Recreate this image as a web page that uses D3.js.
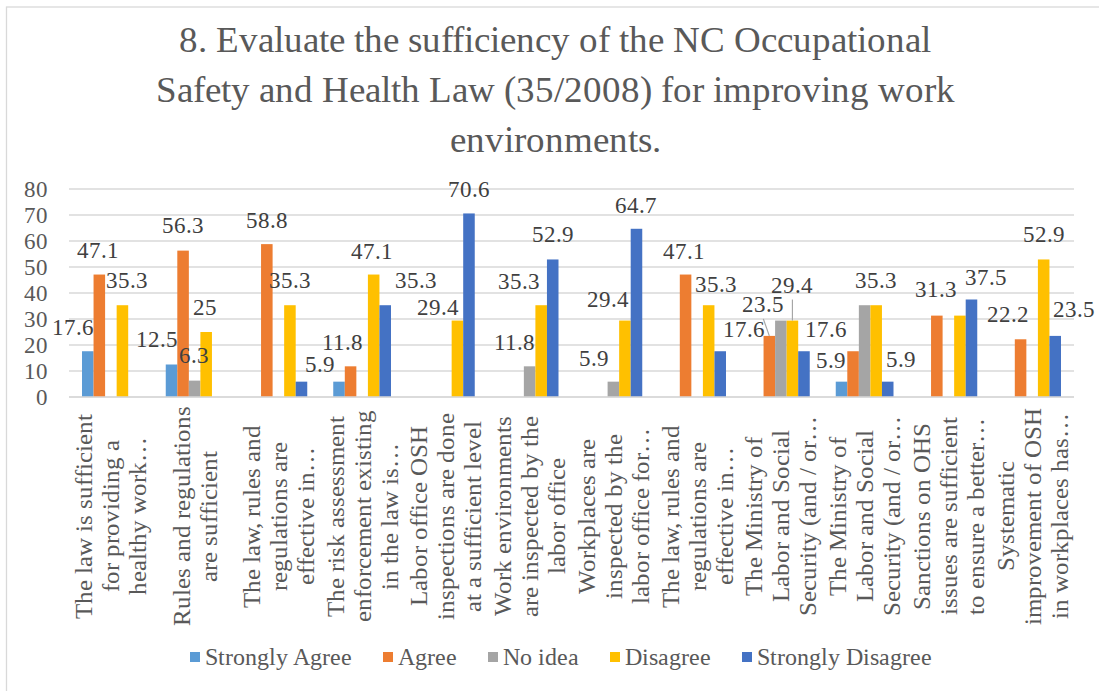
<!DOCTYPE html>
<html>
<head>
<meta charset="utf-8">
<script src="https://cdn.jsdelivr.net/npm/d3@7"></script>
<style>
  @font-face {
    font-family: "ChartSerif";
    src: local("Liberation Serif"), local("LiberationSerif"), local("LiberationSerif-Regular"),
         local("Liberation Serif Regular"), local("Times New Roman"), local("TimesNewRomanPSMT"),
         local("Tinos"), local("Tinos-Regular"), local("DejaVu Serif"), local("DejaVuSerif"),
         local("Noto Serif"), local("NotoSerif-Regular");
  }
  html, body { margin: 0; padding: 0; background: #ffffff; }
  svg { display: block; }
  svg text { font-family: "ChartSerif", "Liberation Serif", "Tinos", "Times New Roman", "Times", "DejaVu Serif", "Noto Serif", serif; }
</style>
</head>
<body>
<svg id="chart" width="1099" height="691"></svg>
<script>
// ---- data ---------------------------------------------------------------
const titleLines = [
  "8. Evaluate the sufficiency of the NC Occupational",
  "Safety and Health Law (35/2008) for improving work",
  "environments."
];

// category labels, already wrapped into lines as they appear under the axis
const categories = [
  ["The law is sufficient", "for providing a", "healthy work\u2026"],
  ["Rules and regulations", "are sufficient"],
  ["The law, rules and", "regulations are", "effective in\u2026"],
  ["The risk assessment", "enforcement existing", "in the law is\u2026"],
  ["Labor office OSH", "inspections are done", "at a sufficient level"],
  ["Work environments", "are inspected by the", "labor office"],
  ["Workplaces are", "inspected by the", "labor office for\u2026"],
  ["The law, rules and", "regulations are", "effective in\u2026"],
  ["The Ministry of", "Labor and Social", "Security (and / or\u2026"],
  ["The Ministry of", "Labor and Social", "Security (and / or\u2026"],
  ["Sanctions on OHS", "issues are sufficient", "to ensure a better\u2026"],
  ["Systematic", "improvement of OSH", "in workplaces has\u2026"]
];

const seriesNames = ["Strongly Agree", "Agree", "No idea", "Disagree", "Strongly Disagree"];

const stronglyAgree    = [17.6, 12.5, null, 5.9, null, null, null, null, null, 5.9, null, null];
const agree            = [47.1, 56.3, 58.8, 11.8, null, null, null, 47.1, 23.5, 17.6, 31.3, 22.2];
const noIdea           = [null, 6.3, null, null, null, 11.8, 5.9, null, 29.4, 35.3, null, null];
const disagree         = [35.3, 25, 35.3, 47.1, 29.4, 35.3, 29.4, 35.3, 29.4, 35.3, 31.3, 52.9];
const stronglyDisagree = [null, null, 5.9, 35.3, 70.6, 52.9, 64.7, 17.6, 17.6, 5.9, 37.5, 23.5];

const yTicks = [0, 10, 20, 30, 40, 50, 60, 70, 80];

// ---- styling --------------------------------------------------------------
const colors = ["#5B9BD5", "#ED7D31", "#A5A5A5", "#FFC000", "#4472C4"];
const seriesValues = [stronglyAgree, agree, noIdea, disagree, stronglyDisagree];

// hand-placed data labels: "category:series" -> [dx, dy] from the default spot,
// "hide" for labels that sit under another label with the same text
const labelNudge = {
  "0:0": [-15, 0], "0:1": [-1, -1], "0:3": [5, -1],
  "1:0": [-14.5, -1.5], "1:1": [0, -2], "1:2": [-1, -1.5], "1:3": [-1, -1],
  "2:1": [0, 0], "2:3": [0, -1], "2:4": [18.5, 6],
  "3:0": "hide", "3:1": [-8, 0], "3:3": [-1.5, 0], "3:4": [31, -1],
  "4:3": [-19.5, 10], "4:4": [0, 0],
  "5:2": [-15.5, 0], "5:3": [-22, 0], "5:4": [0, -1.5],
  "6:2": [-19, 0], "6:3": [-16.5, 2], "6:4": [0, 0],
  "7:1": [-1.5, 0], "7:3": [7, 2.5], "7:4": [24, 1.5],
  "8:1": [-6, -8], "8:2": "hide", "8:3": [0, -12], "8:4": [22, 1.5],
  "9:0": [-11, 2], "9:1": "hide", "9:2": "hide", "9:3": [0, -1], "9:4": [13, 1],
  "10:1": [-1, -2.5], "10:3": "hide", "10:4": [15, 1],
  "11:1": [-13, -1], "11:3": [0, -1.5], "11:4": [18.5, -3]
};
// labels joined to their bar by a short leader line
const leaderLabels = ["8:1", "8:3"];

// ---- layout -------------------------------------------------------------
const W = 1099, H = 691;
const plot = { left: 69, right: 1074, top: 189, bottom: 397 };

const svg = d3.select("#chart");

// pick a font size so that a sample string spans the wanted width
function fitSize(sample, base, target) {
  const t = svg.append("text").style("font-size", base + "px").text(sample);
  const w = t.node().getComputedTextLength();
  t.remove();
  return w > 0 ? base * target / w : base;
}

function draw() {
  svg.selectAll("*").remove();

  const titleSize  = fitSize(titleLines[1], 36, 803);
  const valueSize  = fitSize("56.3", 23.5, 41);
  const catSize    = fitSize("Rules and regulations", 25, 216);
  const legendSize = fitSize("Strongly Agree", 24, 147);

  // chart area frame (extends past the right/bottom edges of the page)
  svg.append("rect")
    .attr("x", 6.5).attr("y", 7)
    .attr("width", W + 40).attr("height", H + 40)
    .attr("fill", "#ffffff")
    .attr("stroke", "#d9d9d9").attr("stroke-width", 1.3);

  // title
  svg.append("text")
    .attr("text-anchor", "middle")
    .attr("fill", "#595959")
    .style("font-size", titleSize + "px")
    .selectAll("tspan")
    .data(titleLines)
    .join("tspan")
    .attr("x", 555)
    .attr("y", (d, i) => 52 + i * 50)
    .text(d => d);

  const idx = d3.range(categories.length);
  const x0 = d3.scaleBand().domain(idx).range([plot.left, plot.right]).padding(0);
  const groupPad = 13;
  const x1 = d3.scaleBand().domain(d3.range(seriesNames.length))
    .range([groupPad, x0.bandwidth() - groupPad]).padding(0);
  const y = d3.scaleLinear().domain([0, 80]).range([plot.bottom, plot.top]);

  // gridlines
  svg.append("g")
    .selectAll("line")
    .data(yTicks)
    .join("line")
    .attr("x1", plot.left).attr("x2", plot.right)
    .attr("y1", d => y(d)).attr("y2", d => y(d))
    .attr("stroke", "#d9d9d9").attr("stroke-width", 1.3);

  // y axis labels
  const yAxis = d3.axisLeft(y).tickValues(yTicks).tickSize(0).tickPadding(0);
  const gy = svg.append("g")
    .attr("transform", `translate(48,0)`)
    .call(yAxis)
    .attr("font-family", null)
    .attr("font-size", null);
  gy.select(".domain").remove();
  gy.selectAll("text")
    .attr("fill", "#595959")
    .attr("dy", "0.32em")
    .style("font-size", valueSize + "px");

  // bars
  const bars = [];
  seriesValues.forEach((vals, si) => {
    vals.forEach((v, ci) => {
      if (v !== null) bars.push({ ci, si, v });
    });
  });

  svg.append("g")
    .selectAll("rect")
    .data(bars)
    .join("rect")
    .attr("x", d => x0(d.ci) + x1(d.si))
    .attr("y", d => y(d.v))
    .attr("width", x1.bandwidth())
    .attr("height", d => y(0) - y(d.v))
    .attr("fill", d => colors[d.si]);

  // category axis line
  svg.append("line")
    .attr("x1", plot.left).attr("x2", plot.right)
    .attr("y1", y(0)).attr("y2", y(0))
    .attr("stroke", "#d9d9d9").attr("stroke-width", 1.3);

  // data labels
  const labelled = bars.filter(d => labelNudge[`${d.ci}:${d.si}`] !== "hide");
  const labelPos = d => {
    const n = labelNudge[`${d.ci}:${d.si}`] || [0, 0];
    const cx = x0(d.ci) + x1(d.si) + x1.bandwidth() / 2;
    return { x: cx + n[0], y: y(d.v) - 16 + n[1], cx, top: y(d.v) };
  };

  svg.append("g")
    .selectAll("line")
    .data(labelled.filter(d => leaderLabels.includes(`${d.ci}:${d.si}`)))
    .join("line")
    .attr("x1", d => labelPos(d).x)
    .attr("y1", d => labelPos(d).y + 7)
    .attr("x2", d => labelPos(d).cx)
    .attr("y2", d => labelPos(d).top)
    .attr("stroke", "#a6a6a6").attr("stroke-width", 1.2);

  svg.append("g")
    .selectAll("text")
    .data(labelled)
    .join("text")
    .attr("x", d => labelPos(d).x)
    .attr("y", d => labelPos(d).y)
    .attr("text-anchor", "middle")
    .attr("fill", "#404040")
    .style("font-size", valueSize + "px")
    .text(d => d.v);

  // category labels, rotated and wrapped
  const lineH = 27;
  const catG = svg.append("g")
    .selectAll("g")
    .data(categories)
    .join("g")
    .attr("transform", (d, i) => `translate(${x0(i) + x0.bandwidth() / 2},516) rotate(-90)`);

  catG.append("text")
    .attr("text-anchor", "middle")
    .attr("fill", "#595959")
    .style("font-size", catSize + "px")
    .selectAll("tspan")
    .data(d => d.map((t, k) => ({ t, k, n: d.length })))
    .join("tspan")
    .attr("x", 0)
    .attr("y", d => (d.k - (d.n - 1) / 2) * lineH)
    .attr("dominant-baseline", "central")
    .text(d => d.t);

  // legend
  const legend = svg.append("g").attr("transform", "translate(190,657)");
  let lx = 0;
  seriesNames.forEach((name, i) => {
    const item = legend.append("g").attr("transform", `translate(${lx},0)`);
    item.append("rect")
      .attr("x", 0).attr("y", -5)
      .attr("width", 10).attr("height", 10)
      .attr("fill", colors[i]);
    const t = item.append("text")
      .attr("x", 15).attr("y", 0)
      .attr("dy", "0.33em")
      .attr("fill", "#595959")
      .style("font-size", legendSize + "px")
      .text(name);
    lx += 15 + t.node().getComputedTextLength() + 31;
  });
}

draw();
// redraw once the local serif face (if any) has finished loading
if (document.fonts && document.fonts.load) {
  document.fonts.load("20px ChartSerif").then(draw).catch(() => {});
}
</script>
</body>
</html>
